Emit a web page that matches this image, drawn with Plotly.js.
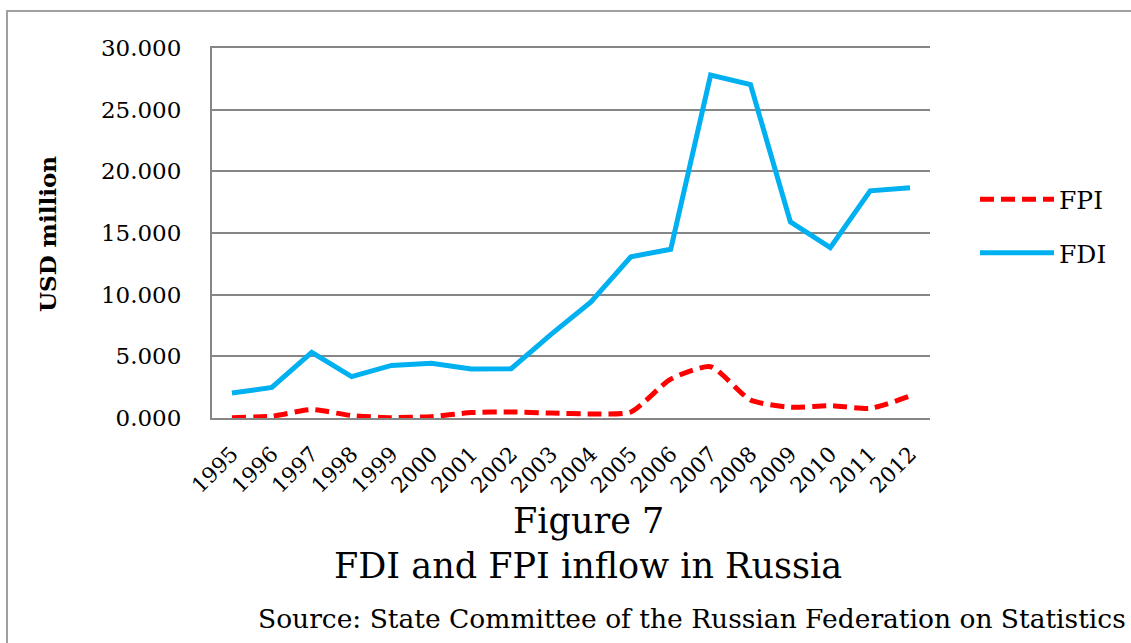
<!DOCTYPE html>
<html>
<head>
<meta charset="utf-8">
<script src="https://cdn.plot.ly/plotly-3.0.1.min.js"></script>
<style>
  html, body { margin: 0; padding: 0; background: #ffffff; }
  #chart { width: 1131px; height: 643px; }
</style>
</head>
<body>
<div id="chart"></div>
<script>
// Inflows to Russia, USD million
const years = ['1995','1996','1997','1998','1999','2000','2001','2002','2003',
               '2004','2005','2006','2007','2008','2009','2010','2011','2012'];
const fpiValues = [30, 150, 680, 200, 30, 110, 440, 490, 400,
                   330, 490, 3150, 4160, 1460, 870, 1000, 790, 1780];
const fdiValues = [2020, 2480, 5330, 3360, 4260, 4430, 3980, 4000, 6780,
                   9420, 13070, 13680, 27800, 27030, 15900, 13810, 18420, 18670];
const yTickValues = [0, 5000, 10000, 15000, 20000, 25000, 30000];
const yTickLabels = ['0.000', '5.000', '10.000', '15.000', '20.000', '25.000', '30.000'];

// Page geometry (pixels)
const PAGE_W = 1131, PAGE_H = 643;
const PLOT_L = 212, PLOT_R = 930, PLOT_T = 48, PLOT_B = 418;
const PW = PLOT_R - PLOT_L, PH = PLOT_B - PLOT_T;
const px = v => (v - PLOT_L) / PW;      // pixel x -> paper x
const py = v => (PLOT_B - v) / PH;      // pixel y -> paper y

const FONT = 'DejaVu Serif, Liberation Serif, serif';
const GRID = 'rgb(134,134,134)';

const traces = [
  {
    x: years, y: fpiValues, name: 'FPI', type: 'scatter', mode: 'lines',
    legendgroup: 'fpi',
    line: { color: '#ff0000', width: 5, dash: '14px,7px', shape: 'spline', smoothing: 0.6 }
  },
  {
    x: years, y: fdiValues, name: 'FDI', type: 'scatter', mode: 'lines',
    legendgroup: 'fdi',
    line: { color: '#00b0f0', width: 5 }
  }
];

const frameColor = 'rgb(160,160,160)';

const layout = {
  width: PAGE_W, height: PAGE_H,
  margin: { l: PLOT_L, r: PAGE_W - PLOT_R, t: PLOT_T, b: PAGE_H - PLOT_B, pad: 0 },
  paper_bgcolor: '#ffffff', plot_bgcolor: '#ffffff',
  font: { family: FONT, color: '#000000' },
  showlegend: true,
  legend: {
    x: px(975), y: py(226), xanchor: 'left', yanchor: 'middle',
    font: { family: FONT, size: 25, color: '#000' },
    bgcolor: 'rgba(0,0,0,0)', borderwidth: 0,
    traceorder: 'grouped', tracegroupgap: 18, itemwidth: 74
  },
  xaxis: {
    type: 'category',
    range: [-0.5, years.length - 0.5],
    showgrid: false, zeroline: false,
    showline: true, linecolor: GRID, linewidth: 2, mirror: true,
    ticks: '', tickangle: -45,
    tickfont: { family: FONT, size: 21.5, color: '#000' },
    ticklabelstandoff: 13,
    fixedrange: true
  },
  yaxis: {
    range: [0, 30000],
    tickvals: yTickValues, ticktext: yTickLabels,
    showgrid: true, gridcolor: GRID, gridwidth: 2,
    zeroline: false,
    showline: true, linecolor: GRID, linewidth: 2,
    ticks: '',
    tickfont: { family: FONT, size: 23, color: '#000' },
    ticklabelstandoff: 24,
    fixedrange: true
  },
  shapes: [
    // page frame: left and top edges
    { type: 'line', xref: 'paper', yref: 'paper',
      x0: px(7), x1: px(7), y0: py(11), y1: py(PAGE_H + 5),
      line: { color: frameColor, width: 2 } },
    { type: 'line', xref: 'paper', yref: 'paper',
      x0: px(6), x1: px(PAGE_W + 5), y0: py(11), y1: py(11),
      line: { color: frameColor, width: 2 } }
  ],
  annotations: [
    { text: '<b>USD million</b>', xref: 'paper', yref: 'paper',
      x: px(47), y: py(234), xanchor: 'center', yanchor: 'middle',
      textangle: -90, showarrow: false,
      font: { family: FONT, size: 23, color: '#000' } },
    { text: 'Figure 7', xref: 'paper', yref: 'paper',
      x: px(588), y: py(521), xanchor: 'center', yanchor: 'middle',
      showarrow: false, font: { family: FONT, size: 35, color: '#000' } },
    { text: 'FDI and FPI inflow in Russia', xref: 'paper', yref: 'paper',
      x: px(587.5), y: py(566), xanchor: 'center', yanchor: 'middle',
      showarrow: false, font: { family: FONT, size: 35, color: '#000' } },
    { text: 'Source: State Committee of the Russian Federation on Statistics',
      xref: 'paper', yref: 'paper',
      x: px(1128), y: py(618), xanchor: 'right', yanchor: 'middle',
      showarrow: false, font: { family: FONT, size: 26.5, color: '#000' } }
  ]
};

Plotly.newPlot('chart', traces, layout, { displayModeBar: false, staticPlot: true });
</script>
</body>
</html>
